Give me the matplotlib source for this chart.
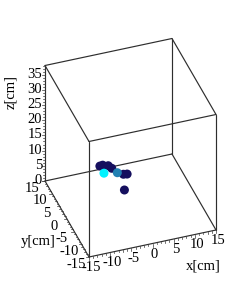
import numpy as np
import matplotlib
matplotlib.use("Agg")
import matplotlib.pyplot as plt

# =====================================================
# DATA (cm)
# =====================================================
x_cm = [-4.6, -3.9, -2.8, -2.0, 0.1, 0.9, -0.5, -1.0, -3.5]
y_cm = [7.6, 7.7, 7.1, 7.0, 5.1, 4.9, 2.7, 6.1, 8.0]
z_cm = [8, 8, 8, 7, 6, 6, 3, 6, 5]
colores = ['#150f5e', '#150f5e', '#150f5e', '#150f5e', '#150f5e',
           '#150f5e', '#150f5e', '#2280b2', '#00f2ff']

x_ticks = [-15, -10, -5, 0, 5, 10, 15]
y_ticks = [-15, -10, -5, 0, 5, 10, 15]
z_ticks = [0, 5, 10, 15, 20, 25, 30, 35]

X_MIN, X_MAX = -15, 15
Y_MIN, Y_MAX = -15, 15
Z_MIN, Z_MAX = 0, 38


# Orthographic view: cm to screen position
def proyectar(x, y, z):
    x = np.asarray(x, dtype=float)
    y = np.asarray(y, dtype=float)
    z = np.asarray(z, dtype=float)
    sx = 89 + 127 * (x + 15) / 30 - 44 * (y + 15) / 30
    sy = 257 - 27 * (x + 15) / 30 - 76 * (y + 15) / 30 - 115.5 * z / 38
    return sx, sy


def arista(ax, p0, p1):
    sx, sy = proyectar(*zip(p0, p1))
    ax.plot(sx, sy, color='#2e2e2e', lw=0.85, solid_capstyle='round', zorder=1)


plt.rcParams['font.family'] = ['Liberation Serif', 'DejaVu Serif']

fig = plt.figure(figsize=(2.45, 2.95), dpi=100, facecolor='white')
ax = fig.add_axes([0, 0, 1, 1])
ax.set_xlim(0, 245)
ax.set_ylim(295, 0)
ax.axis('off')

# =====================================================
# BOX
# =====================================================
for y0 in (Y_MIN, Y_MAX):
    for z0 in (Z_MIN, Z_MAX):
        arista(ax, (X_MIN, y0, z0), (X_MAX, y0, z0))
for x0 in (X_MIN, X_MAX):
    for z0 in (Z_MIN, Z_MAX):
        arista(ax, (x0, Y_MIN, z0), (x0, Y_MAX, z0))
for x0 in (X_MIN, X_MAX):
    for y0 in (Y_MIN, Y_MAX):
        arista(ax, (x0, y0, Z_MIN), (x0, y0, Z_MAX))

# =====================================================
# TICKS
# =====================================================
for v in range(X_MIN, X_MAX + 1):
    sx, sy = proyectar(v, Y_MIN, 0)
    largo = 3 if v % 5 == 0 else 1.7
    ax.plot([sx, sx], [sy, sy + largo], color='#3a3a3a', lw=0.5, zorder=1)
for v in range(Y_MIN, Y_MAX + 1):
    sx, sy = proyectar(X_MIN, v, 0)
    largo = 3 if v % 5 == 0 else 1.7
    ax.plot([sx, sx - largo], [sy, sy], color='#3a3a3a', lw=0.5, zorder=1)
for v in range(Z_MIN, Z_MAX + 1):
    sx, sy = proyectar(X_MIN, Y_MAX, v)
    largo = 3 if v % 5 == 0 else 1.7
    ax.plot([sx, sx - largo], [sy, sy], color='#3a3a3a', lw=0.5, zorder=1)

for v in x_ticks:
    sx, sy = proyectar(v, Y_MIN, 0)
    ax.text(sx + 2, sy + 10.5, str(v), fontsize=10.5, ha='center', va='center')
for v in y_ticks:
    sx, sy = proyectar(X_MIN, v, 0)
    ax.text(sx - 12.5, sy + 7, str(v), fontsize=10.5, ha='center', va='center')
for v in z_ticks:
    sx, sy = proyectar(X_MIN, Y_MAX, v)
    ax.text(sx - 3, sy - 0.5, str(v), fontsize=10.5, ha='right', va='center')

ax.text(203, 266, 'x[cm]', fontsize=10.5, ha='center', va='center')
ax.text(38, 241, 'y[cm]', fontsize=10.5, ha='center', va='center')
ax.text(11, 92, 'z[cm]', fontsize=10.5, ha='center', va='center', rotation=90)

# =====================================================
# POINTS
# =====================================================
sx, sy = proyectar(x_cm, y_cm, z_cm)
ax.scatter(sx, sy, s=42, c=colores, linewidths=0, zorder=3)

plt.savefig('out.png', dpi=100, facecolor='white')
